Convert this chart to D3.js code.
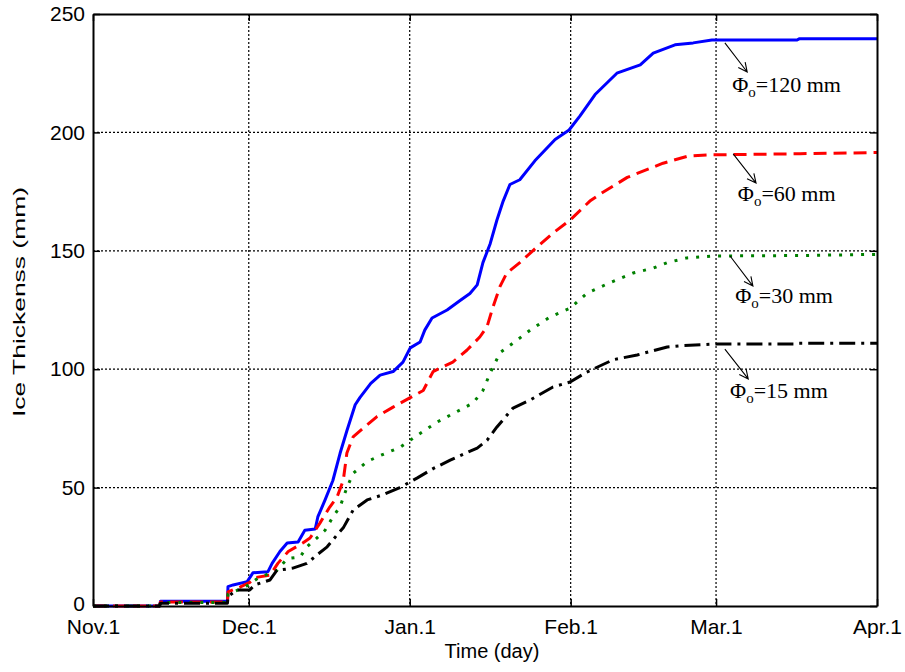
<!DOCTYPE html>
<html>
<head>
<meta charset="utf-8">
<script src="https://cdn.jsdelivr.net/npm/d3@7/dist/d3.min.js"></script>
<style>
  body { margin: 0; background: #fff; }
  svg { display: block; }
</style>
</head>
<body>
<div id="chart"></div>
<script>
// Ice thickness growth for different pipe diameters, Nov.1 to Apr.1
// x values are days counted from Nov.1

const tickDays = [0, 30, 61, 92, 120, 151];
const tickLabels = ["Nov.1", "Dec.1", "Jan.1", "Feb.1", "Mar.1", "Apr.1"];
const yTicks = [0, 50, 100, 150, 200, 250];

// [day, thickness mm]
const phi120 = [[0,0],[12.8,0],[13,2],[25.9,2],[26,8.2],[27,8.9],[29.7,10.3],[30.8,14],[33.7,14.5],[34.5,18],[36,23],
  [37.4,26.6],[39.5,27],[40.8,32],[42.8,32.5],[43.3,37.6],[44.7,44.8],[46.2,53],[47.6,64.6],[48.9,74],[50.5,85],
  [51.4,88],[53.5,94],[55.3,97.5],[57.8,99],[59.7,103],[61.1,109],[63,111.5],[63.9,116.5],[65.3,121.6],[68.2,125],
  [70.7,129],[72.6,132],[74,135.6],[75.1,145],[76.5,153],[77.8,163],[79,171],[80.3,178],[82.2,180],[85.1,188],
  [89,197],[91.7,201],[93.8,207],[96.7,216],[100.9,225],[105.4,228.5],[107.9,233.5],[112.1,237],[115.6,237.8],
  [119.2,239],[135.6,239],[136,239.5],[151,239.5]];

const phi60 = [[0,0],[12.8,0],[13,1.7],[25.9,1.7],[26,6],[28.3,8],[30.2,10],[31.2,12],[34.1,13],[35.6,18],[37.6,23],
  [40.4,26.6],[41.8,28.7],[43.7,35],[45.6,41.8],[47,46],[48.2,53],[48.9,64.6],[50.1,71.4],[52,75],[54.7,80],
  [57.8,84],[61.1,88],[63.6,91],[65.5,99],[69.3,103],[72,108],[74.5,113.6],[75.9,118],[77,126],[78.4,135],
  [79.7,140.6],[82.2,145],[84.7,150],[88.6,157.5],[91.9,163],[95.7,171],[97.7,174],[102.9,181],[109.8,187],
  [114.6,190],[118.8,190.5],[136.2,191],[151,191.5]];

const phi30 = [[0,0],[12.8,0],[13,1.5],[25.9,1.5],[26,5],[29.3,8],[31.8,11.8],[35.4,15],[37.4,20],[39.9,20.7],
  [41.2,25],[43.1,28.7],[44.7,32],[46.2,37.6],[47.6,42],[48.9,50],[50.1,56],[52.8,61],[55.3,63.5],[59.1,67],
  [62.4,72],[66.3,77.7],[70.7,82.8],[73.2,85.7],[75.1,91],[76.5,98.4],[78.4,107],[80.9,111],[84.2,116.5],
  [88,122],[91.9,125.8],[95.1,132],[99,136],[104,140.6],[107.9,142.7],[110.6,145],[114.4,147],[119.4,147.8],
  [136.2,148],[151,148.5]];

const phi15 = [[0,0],[12.8,0],[13,1.2],[25.9,1.2],[26,4],[27.7,6.8],[30.2,6.8],[31.2,9],[32.7,10],[34.1,11],
  [35.4,15],[38.5,16],[41.2,18],[43.1,21.5],[45.1,25],[47,30],[48.2,33],[50.1,40.5],[52.8,44.8],[55.9,47],
  [59.1,50],[62.4,54],[65.5,58],[68.8,61.6],[74,66.7],[75.9,70],[77.8,75.6],[80.9,83.6],[84.2,87],[88.6,92.5],
  [91.9,94.6],[95.1,98.8],[100.2,104],[104.8,106],[110.6,109.4],[113.6,110],[119.4,110.6],[135.6,110.6],
  [136,111],[151,111]];

const seriesNames = ["120", "60", "30", "15"];
const seriesData = [phi120, phi60, phi30, phi15];

// annotation arrows: [startDay, startVal, endDay, endVal, textDay, textVal]
const labelSpots = [
  [121.7, 237.8, 126.0, 225.5, 123.1, 217],
  [123.3, 190.9, 127.7, 178.6, 124.2, 171],
  [122.7, 147.8, 127.1, 135.1, 123.7, 128],
  [121.7, 108.5, 126.2, 95.9, 122.7, 87.8]
];

const margin = { top: 14, right: 28, bottom: 66, left: 93 },
      width = 905 - margin.left - margin.right,
      height = 672 - margin.top - margin.bottom;

const svg = d3.select("#chart")
  .append("svg")
  .attr("width", 905)
  .attr("height", 672)
  .append("g")
  .attr("transform", `translate(${margin.left},${margin.top})`);

const x = d3.scaleLinear().domain([0, 151]).range([0, width]);
const y = d3.scaleLinear().domain([0, 250]).range([height, 0]);

// grid
svg.append("g")
  .selectAll("line")
  .data(tickDays.slice(1, -1))
  .join("line")
  .attr("x1", d => x(d)).attr("x2", d => x(d))
  .attr("y1", 0).attr("y2", height)
  .attr("stroke", "#000").attr("stroke-width", 1.2)
  .attr("stroke-dasharray", "2,2");

svg.append("g")
  .selectAll("line")
  .data(yTicks.slice(1, -1))
  .join("line")
  .attr("x1", 0).attr("x2", width)
  .attr("y1", d => y(d)).attr("y2", d => y(d))
  .attr("stroke", "#000").attr("stroke-width", 1.2)
  .attr("stroke-dasharray", "2,2");

// curves
const colors = ["#0000ff", "#ff0000", "#008000", "#000000"];
const dashes = [null, "13,7", "3,8", "16,6,3,6"];

const line = d3.line()
  .x(d => x(d[0]))
  .y(d => y(d[1]));

seriesData.forEach((s, i) => {
  svg.append("path")
    .datum(s)
    .attr("fill", "none")
    .attr("stroke", colors[i])
    .attr("stroke-width", 3)
    .attr("stroke-linejoin", "round")
    .attr("stroke-dasharray", dashes[i])
    .attr("d", line);
});

// axes (MATLAB-style box with inward ticks on all sides)
const axFont = "'Liberation Sans', Arial, sans-serif";

const xAxis = svg.append("g")
  .attr("transform", `translate(0,${height})`)
  .call(d3.axisBottom(x).tickValues(tickDays).tickFormat((d, i) => tickLabels[i])
    .tickSizeInner(-7).tickSizeOuter(0).tickPadding(13));
xAxis.selectAll("text").style("font-family", axFont).style("font-size", "21px").attr("fill", "#000");

const xTop = svg.append("g")
  .call(d3.axisTop(x).tickValues(tickDays).tickFormat("").tickSizeInner(-7).tickSizeOuter(0));

const yAxis = svg.append("g")
  .call(d3.axisLeft(y).tickValues(yTicks).tickSizeInner(-7).tickSizeOuter(0).tickPadding(8));
yAxis.selectAll("text").style("font-family", axFont).style("font-size", "21px").attr("fill", "#000");
// the "0" sits just above the first x label, nudge it up a little
yAxis.selectAll(".tick").filter(d => d === 0).select("text").attr("dy", "0.2em");

const yRight = svg.append("g")
  .attr("transform", `translate(${width},0)`)
  .call(d3.axisRight(y).tickValues(yTicks).tickFormat("").tickSizeInner(-7).tickSizeOuter(0));

[xAxis, xTop, yAxis, yRight].forEach(g => {
  g.select(".domain").attr("stroke", "#000").attr("stroke-width", 2);
  g.selectAll(".tick line").attr("stroke", "#000").attr("stroke-width", 1.5);
});

// axis titles
svg.append("text")
  .attr("x", width / 2 + 7)
  .attr("y", height + 52)
  .attr("text-anchor", "middle")
  .style("font-family", axFont)
  .style("font-size", "20px")
  .text("Time (day)");

svg.append("text")
  .attr("transform", `translate(${-68},${height / 2 - 8}) rotate(-90)`)
  .attr("text-anchor", "middle")
  .attr("textLength", 230)
  .attr("lengthAdjust", "spacingAndGlyphs")
  .style("font-family", axFont)
  .style("font-size", "17px")
  .text("Ice Thickenss (mm)");

// annotations
const serif = "'Liberation Serif', 'Times New Roman', serif";
labelSpots.forEach((p, i) => {
  const x1 = x(p[0]), y1 = y(p[1]), x2 = x(p[2]), y2 = y(p[3]);
  const ang = Math.atan2(y2 - y1, x2 - x1);
  const head = 10, spread = Math.PI / 7;
  svg.append("path")
    .attr("fill", "none")
    .attr("stroke", "#000")
    .attr("stroke-width", 1.1)
    .attr("d", `M${x1},${y1}L${x2},${y2}` +
      `M${x2 - head * Math.cos(ang - spread)},${y2 - head * Math.sin(ang - spread)}L${x2},${y2}` +
      `L${x2 - head * Math.cos(ang + spread)},${y2 - head * Math.sin(ang + spread)}`);

  const t = svg.append("text")
    .attr("x", x(p[4]))
    .attr("y", y(p[5]))
    .style("font-family", serif)
    .style("font-size", "22px")
    .attr("fill", "#000");
  t.append("tspan").text("\u03A6");
  t.append("tspan").attr("dy", 5).style("font-size", "15px").text("o");
  t.append("tspan").attr("dy", -5).text("=" + seriesNames[i] + " mm");
});
</script>
</body>
</html>
